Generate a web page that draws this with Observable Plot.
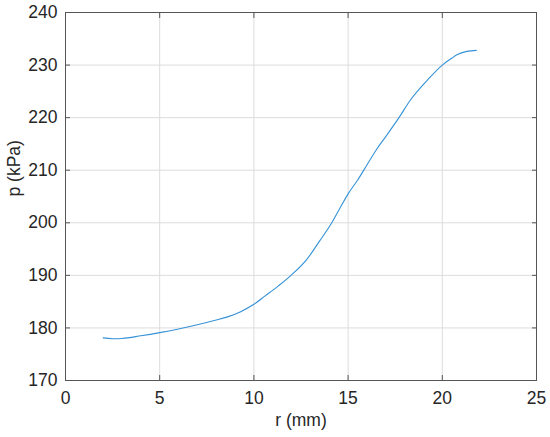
<!DOCTYPE html>
<html>
<head>
<meta charset="utf-8">
<script src="https://cdn.jsdelivr.net/npm/d3@7"></script>
<script src="https://cdn.jsdelivr.net/npm/@observablehq/plot@0.6"></script>
<style>
  html, body { margin: 0; padding: 0; background: #fff; }
  #chart svg { display: block; }
</style>
</head>
<body>
<div id="chart"></div>
<script>
const r = [2.0, 2.5, 3.0, 4.0, 5.0, 6.0, 7.0, 8.0, 8.6, 9.3, 10.0, 10.6, 11.3, 12.0, 12.8, 13.5, 14.1, 14.6, 15.0, 15.5, 16.0, 16.5, 17.0, 17.7, 18.3, 19.2, 20.0, 20.5, 20.8, 21.3, 21.8];
const p = [178.1, 177.95, 178.0, 178.5, 179.1, 179.8, 180.6, 181.5, 182.1, 183.1, 184.5, 186.1, 188.0, 190.1, 193.0, 196.6, 199.8, 203.0, 205.5, 208.1, 211.0, 213.9, 216.4, 220.0, 223.3, 227.1, 230.0, 231.3, 232.0, 232.6, 232.8];
const xTicks = [0, 5, 10, 15, 20, 25];
const yTicks = [170, 180, 190, 200, 210, 220, 230, 240];
const xLabel = "r (mm)";
const yLabel = "p (kPa)";

const data = r.map((v, i) => ({r: v, p: p[i]}));
const textColor = "#262626";
const fs = 17.5;

const chart = Plot.plot({
  width: 550,
  height: 437,
  marginLeft: 65,
  marginRight: 14,
  marginTop: 12,
  marginBottom: 57,
  style: {fontFamily: "'Liberation Sans', Arial, sans-serif", fontSize: fs + "px", color: textColor, background: "#fff"},
  x: {domain: [0, 25]},
  y: {domain: [170, 240]},
  marks: [
    Plot.gridX(xTicks, {stroke: "#dcdcdc", strokeOpacity: 1}),
    Plot.gridY(yTicks, {stroke: "#dcdcdc", strokeOpacity: 1}),
    Plot.line(data, {x: "r", y: "p", stroke: "#3592d6", strokeWidth: 1.1, curve: "monotone-x"}),
    Plot.frame({stroke: "#555", strokeWidth: 1}),
    Plot.axisX(xTicks, {anchor: "bottom", tickSize: -5, tickPadding: 16, stroke: "#555", fill: textColor, label: null, fontSize: fs}),
    Plot.axisX(xTicks, {anchor: "top", tickSize: -5, text: null, stroke: "#555", label: null}),
    Plot.axisY(yTicks, {anchor: "left", tickSize: -5, tickPadding: 13, stroke: "#555", fill: textColor, label: null, fontSize: fs}),
    Plot.axisY(yTicks, {anchor: "right", tickSize: -5, text: null, stroke: "#555", label: null}),
    Plot.text([xLabel], {frameAnchor: "bottom", dy: 45, fill: textColor, fontSize: fs}),
    Plot.text([yLabel], {frameAnchor: "left", dx: -51, rotate: -90, fill: textColor, fontSize: fs})
  ]
});
document.getElementById("chart").appendChild(chart);
</script>
</body>
</html>
